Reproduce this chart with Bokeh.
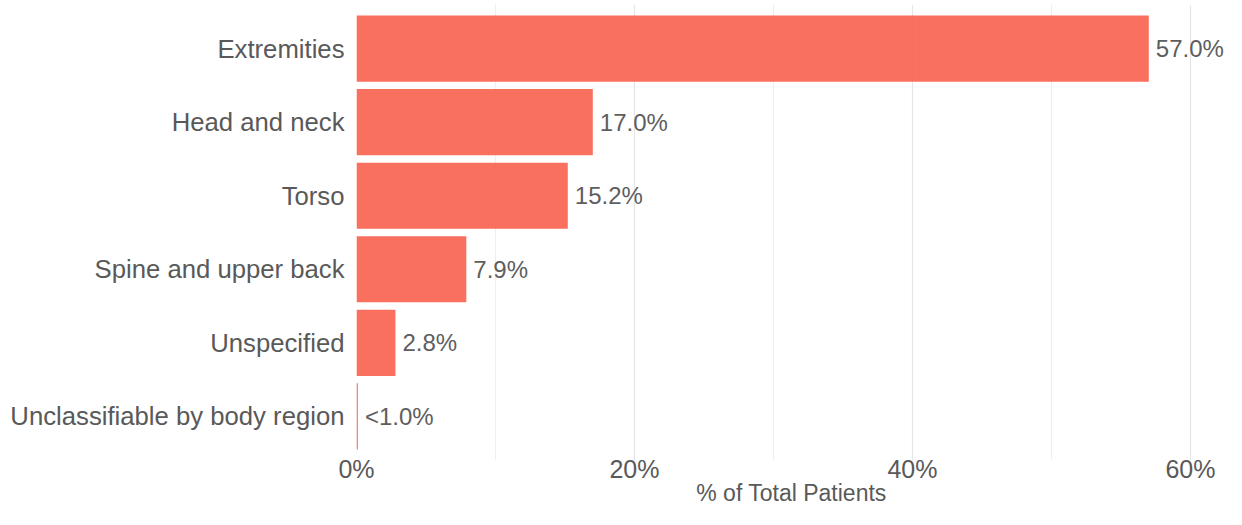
from bokeh.plotting import figure
from bokeh.models import ColumnDataSource, FactorRange, Range1d, FixedTicker, PrintfTickFormatter
from bokeh.embed import file_html
from bokeh.resources import INLINE
from bokeh.core.properties import value

categories = ["Extremities", "Head and neck", "Torso", "Spine and upper back",
              "Unspecified", "Unclassifiable by body region"]
percents = [57.0, 17.0, 15.2, 7.9, 2.8, 0.1]
labels = ["<1.0%" if v < 1 else f"{v:.1f}%" for v in percents]
x_ticks = [0, 20, 40, 60]
x_minor = [10, 30, 50]
x_title = "% of Total Patients"

FONT = "Liberation Sans"
TXT = "#595959"
X_END = 62.59

src = ColumnDataSource(dict(cat=categories, pct=percents, lab=labels))

y_range = FactorRange(factors=list(reversed(categories)), range_padding=0.1,
                      range_padding_units="absolute")

p = figure(width=1226, height=509, y_range=y_range, x_range=Range1d(0, X_END),
           output_backend="svg", toolbar_location=None,
           min_border_left=356, min_border_right=0, min_border_top=4,
           min_border_bottom=49)
p.outline_line_color = None
p.background_fill_color = "white"

p.hbar(y="cat", right="pct", left=0, height=0.9, source=src,
       fill_color="#F9604D", fill_alpha=0.9, line_color=None)

p.text(x="pct", y="cat", text="lab", source=src, x_offset=7,
       text_baseline="middle", text_align="left",
       text_font=value(FONT), text_font_size="24px", text_color="#5E5E5E")

# x axis
p.xaxis.ticker = FixedTicker(ticks=x_ticks, minor_ticks=x_minor)
p.xaxis.formatter = PrintfTickFormatter(format="%d%%")
p.xaxis.axis_line_color = None
p.xaxis.major_tick_line_color = None
p.xaxis.minor_tick_line_color = None
p.xaxis.major_tick_out = 0
p.xaxis.major_tick_in = 0
p.xaxis.minor_tick_out = 0
p.xaxis.minor_tick_in = 0
p.xaxis.major_label_text_font = FONT
p.xaxis.major_label_text_font_size = "25px"
p.xaxis.major_label_text_color = TXT
p.xaxis.major_label_text_line_height = 1.0
p.xaxis.major_label_standoff = -6
p.xaxis.axis_label = x_title
p.xaxis.axis_label_text_font = FONT
p.xaxis.axis_label_text_font_size = "23px"
p.xaxis.axis_label_text_font_style = "normal"
p.xaxis.axis_label_text_color = TXT
p.xaxis.axis_label_text_line_height = 1.0
p.xaxis.axis_label_standoff = -6

# y axis
p.yaxis.axis_line_color = None
p.yaxis.major_tick_line_color = None
p.yaxis.minor_tick_line_color = None
p.yaxis.major_tick_out = 0
p.yaxis.major_tick_in = 0
p.yaxis.major_label_text_font = FONT
p.yaxis.major_label_text_font_size = "25.7px"
p.yaxis.major_label_text_color = TXT
p.yaxis.major_label_standoff = 12

# grids
p.ygrid.grid_line_color = None
p.xgrid.grid_line_color = "#E6E6E6"
p.xgrid.grid_line_width = 1.2
p.xgrid.minor_grid_line_color = "#EFEFEF"
p.xgrid.minor_grid_line_width = 1.2
p.xgrid.level = "underlay"

open("out.html", "w").write(file_html(p, INLINE))
